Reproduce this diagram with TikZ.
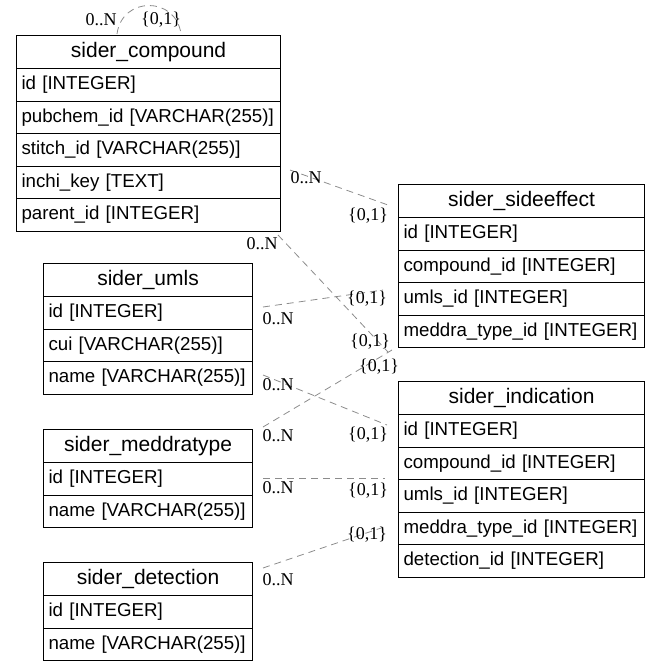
\documentclass[tikz,border=0pt]{standalone}
\usepackage{fontspec}
\setmainfont{Liberation Serif}
\newfontfamily\arialf{Liberation Sans}
\newcommand\erdtable[7]{% #1 name, #2 left x, #3 width, #4 text width, #5 top y, #6 title, #7 rows
  \node[tbl, hdr, minimum width=#3pt, minimum height=33pt] (#1) at (#2,#5) {#6};
  \foreach \txt [count=\i] in {#7} {
    \node[tbl, fld, text width=#4pt, minimum height=32.5pt] (#1-\i) at (#2, #5+33+\i*32.5-32.5) {\mbox{\txt}};
  }
}
\begin{document}
\begin{tikzpicture}[x=1pt,y=-1pt,
  tbl/.style={draw=black, line width=1.1pt, anchor=north west, inner ysep=0pt},
  hdr/.style={font=\arialf\fontsize{21}{24}\selectfont, inner xsep=0pt},
  fld/.style={font=\arialf\fontsize{18.7}{22}\selectfont, align=left, inner xsep=5pt},
  rel/.style={draw=black!45, line width=0.8pt, dash pattern=on 7pt off 5pt},
  card/.style={font=\fontsize{18}{20}\selectfont, inner sep=0pt, text=black}]
\useasboundingbox (0,0) rectangle (660,672);

\erdtable{compound}{16}{264}{254}{35}{sider\_compound}{{id [INTEGER]},{pubchem\_id [VARCHAR(255)]},{stitch\_id [VARCHAR(255)]},{inchi\_key [TEXT]},{parent\_id [INTEGER]}}
\erdtable{sideeffect}{398}{246}{236}{184}{sider\_sideeffect}{{id [INTEGER]},{compound\_id [INTEGER]},{umls\_id [INTEGER]},{meddra\_type\_id [INTEGER]}}
\erdtable{umls}{43}{209}{199}{263}{sider\_umls}{{id [INTEGER]},{cui [VARCHAR(255)]},{name [VARCHAR(255)]}}
\erdtable{indication}{398}{246}{236}{381}{sider\_indication}{{id [INTEGER]},{compound\_id [INTEGER]},{umls\_id [INTEGER]},{meddra\_type\_id [INTEGER]},{detection\_id [INTEGER]}}
\erdtable{meddratype}{43}{209}{199}{429}{sider\_meddratype}{{id [INTEGER]},{name [VARCHAR(255)]}}
\erdtable{detection}{43}{209}{199}{562}{sider\_detection}{{id [INTEGER]},{name [VARCHAR(255)]}}

% connector end points
\coordinate (r1a) at (117,34);  \coordinate (r1b) at (181,34);
\coordinate (r2a) at (290,170); \coordinate (r2b) at (388,205);
\coordinate (r3a) at (278,235); \coordinate (r3b) at (388,352);
\coordinate (r4a) at (263,307); \coordinate (r4b) at (383,290);
\coordinate (r5a) at (263,375); \coordinate (r5b) at (387,425);
\coordinate (r6a) at (263,427); \coordinate (r6b) at (392,350);
\coordinate (r7a) at (263,478); \coordinate (r7b) at (385,478);
\coordinate (r8a) at (263,568); \coordinate (r8b) at (387,526);

\draw[rel] (r1a) .. controls (122,-4) and (176,-4) .. (r1b);
\draw[rel] (r2a) -- (r2b);
\draw[rel] (r3a) -- (r3b);
\draw[rel] (r4a) -- (r4b);
\draw[rel] (r5a) -- (r5b);
\draw[rel] (r6a) -- (r6b);
\draw[rel] (r7a) -- (r7b);
\draw[rel] (r8a) -- (r8b);

% cardinality labels
\node[card] (c1a) at (101,20) {0..N};  \node[card] (c1b) at (161,20) {\{0,1\}};
\node[card] (c2a) at (306,178) {0..N}; \node[card] (c2b) at (368,216) {\{0,1\}};
\node[card] (c3a) at (262,244) {0..N}; \node[card] (c3b) at (370,342) {\{0,1\}};
\node[card] (c4a) at (278,319) {0..N}; \node[card] (c4b) at (367,299) {\{0,1\}};
\node[card] (c5a) at (278,385) {0..N}; \node[card] (c5b) at (368,435) {\{0,1\}};
\node[card] (c6a) at (278,436) {0..N}; \node[card] (c6b) at (379,367) {\{0,1\}};
\node[card] (c7a) at (278,488) {0..N}; \node[card] (c7b) at (368,491) {\{0,1\}};
\node[card] (c8a) at (278,580) {0..N}; \node[card] (c8b) at (367,535) {\{0,1\}};
\end{tikzpicture}
\end{document}
